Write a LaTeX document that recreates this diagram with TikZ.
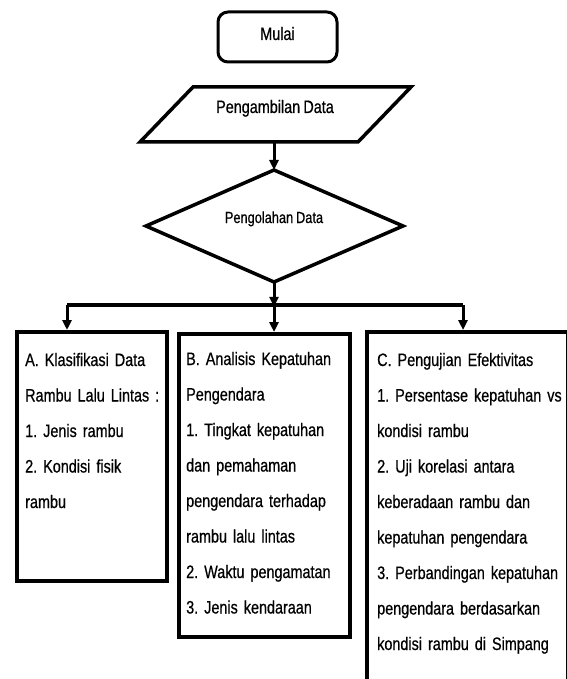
\documentclass[tikz,border=0pt]{standalone}
\usepackage{fontspec}
\setmainfont{Liberation Sans}[FakeStretch=0.8, FakeBold=0.6, WordSpace=0.8]
\frenchspacing
\usetikzlibrary{arrows.meta}
\tikzset{
  flow/.style={line width=3.5pt, line join=miter},
  arr/.style={line width=3pt, -{Triangle[length=10pt,width=9pt]}},
  bus/.style={line width=3.5pt},
  boxshape/.style={draw, line width=3.5pt, anchor=north west, inner sep=0pt},
  boxtext/.style={anchor=base west, inner sep=0pt, align=left,
                  font=\fontsize{18}{35.5}\selectfont\frenchspacing},
  label18/.style={anchor=base, inner sep=0pt, font=\fontsize{18}{20}\selectfont},
}
\begin{document}
\begin{tikzpicture}[x=1pt,y=-1pt]
\useasboundingbox (0,0) rectangle (566,679);

% Mulai
\node[draw, line width=3pt, rounded corners=10pt, minimum width=119pt,
      minimum height=50pt, inner sep=0pt] (mulai) at (277.5,37) {};
\node[label18] (mulaiT) at (277.5,40) {Mulai};

% Pengambilan Data (parallelogram)
\draw[flow] (140,142) -- (358,142) -- (411,87) -- (193,87) -- cycle;
\node[label18] (ambilT) at (275,113) {Pengambilan Data};
\coordinate (ambilS) at (274,142);

% Pengolahan Data (diamond)
\draw[flow] (274,170) -- (403,226) -- (274,282) -- (146,226) -- cycle;
\node[anchor=base, inner sep=0pt, font=\fontsize{16}{18}\selectfont] (olahT) at (274,223) {Pengolahan Data};
\coordinate (diaN) at (274,170);
\coordinate (diaS) at (274,282);

% bus
\coordinate (busC) at (274,305);
\coordinate (busL) at (67,305);
\coordinate (busR) at (463,305);

% boxes
\node[boxshape, minimum width=150pt, minimum height=249pt] (boxA) at (15,330) {};
\node[boxshape, minimum width=171pt, minimum height=303pt] (boxB) at (177,332) {};
\node[boxshape, minimum width=201pt, minimum height=380pt] (boxC) at (365,330) {};

% connectors
\draw[arr] (ambilS) -- (diaN);
\draw[arr] (diaS) -- ([yshift=-1.75pt]busC);
\draw[bus] (busL) -- (busR);
\draw[arr] (busL) -- (busL |- boxA.north);
\draw[arr] (busC) -- (busC |- boxB.north);
\draw[arr] (busR) -- (busR |- boxC.north);

% texts
\node[boxtext, text width=131pt] (textA) at (25,366) {%
\makebox[\linewidth][s]{A. Klasifikasi Data}\\
\mbox{Rambu Lalu Lintas :}\\
1. Jenis rambu\\
2. Kondisi fisik\\
rambu};

\node[boxtext, text width=151pt] (textB) at (186,365) {%
\makebox[\linewidth][s]{B. Analisis Kepatuhan}\\
Pengendara\\
1. Tingkat kepatuhan\\
dan pemahaman\\
pengendara terhadap\\
rambu lalu lintas\\
2. Waktu pengamatan\\
3. Jenis kendaraan};

\node[boxtext, text width=180pt] (textC) at (377,366) {%
C. Pengujian Efektivitas\\
\makebox[\linewidth][s]{1. Persentase kepatuhan vs}\\
kondisi rambu\\
2. Uji korelasi antara\\
keberadaan rambu dan\\
kepatuhan pengendara\\
\makebox[\linewidth][s]{3. Perbandingan kepatuhan}\\
\makebox[\linewidth][s]{pengendara berdasarkan}\\
\makebox[\linewidth][s]{kondisi rambu di Simpang}};
\end{tikzpicture}
\end{document}
